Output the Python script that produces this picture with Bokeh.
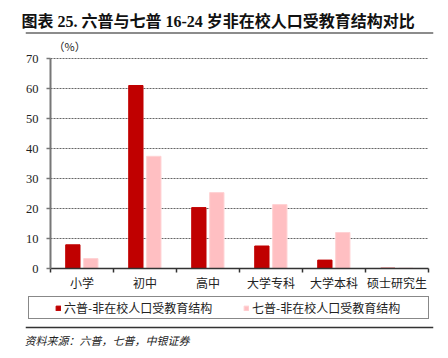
from bokeh.plotting import figure
from bokeh.models import (FixedTicker, Legend, LegendItem, ColumnDataSource, Label, Span, Range1d)
from bokeh.transform import dodge
from bokeh.core.properties import value
from bokeh.embed import file_html
from bokeh.resources import INLINE
import numpy as np

categories = ["小学", "初中", "高中", "大学专科", "大学本科", "硕士研究生"]
census6 = [7.9, 61.0, 20.3, 7.5, 2.8, 0.1]
census7 = [3.3, 37.4, 25.3, 21.3, 12.0, 0.1]
series_names = ["六普-非在校人口受教育结构", "七普-非在校人口受教育结构"]
y_ticks = [0, 10, 20, 30, 40, 50, 60, 70]
title_text = "图表 25. 六普与七普 16-24 岁非在校人口受教育结构对比"
unit_text = "（%）"
source_text = "资料来源：六普，七普，中银证券"

# ---- layout constants (pixels on the canvas) ----
W, H = 448, 358
FRAME_L, FRAME_R, FRAME_T, FRAME_B = 25, 433, 30, 348   # drawing frame
AX_L, AX_R, AX_T, AX_B = 50, 428, 58, 268                # where the axes sit
ncat = len(categories)
ymax = y_ticks[-1]
ppx = (AX_R - AX_L) / ncat
ppy = (AX_B - AX_T) / ymax


def fx(px):
    return (px - AX_L) / ppx


def fy(py):
    return (AX_B - py) / ppy


FONT = "Liberation Serif, Noto Sans CJK SC"
CJK = "Noto Sans CJK SC"

p = figure(width=W, height=H, output_backend="svg", toolbar_location=None,
           x_range=Range1d(fx(FRAME_L), fx(FRAME_R)), y_range=Range1d(fy(FRAME_B), fy(FRAME_T)),
           min_border_left=FRAME_L, min_border_right=W - FRAME_R,
           min_border_top=FRAME_T, min_border_bottom=H - FRAME_B)
p.outline_line_color = None
p.xgrid.visible = False
p.ygrid.visible = False

# ---- title ----
p.title.text = title_text
p.title.align = "left"
p.title.offset = 21 - FRAME_L
p.title.text_font = FONT
p.title.text_font_size = "16px"
p.title.text_font_style = "bold"
p.title.text_color = "#111111"
p.title.standoff = 2

p.add_layout(Span(location=fy(32.5), dimension="width", line_color="#8c8c8c", line_width=2))
p.add_layout(Label(x=fx(53), y=fy(45), text=unit_text, text_font=CJK, text_font_size="11px",
                   text_baseline="middle", text_color="#222222"))

# ---- grid lines (dashed) ----
grid_levels = y_ticks[1:]
p.segment(x0=[0] * len(grid_levels), x1=[ncat] * len(grid_levels), y0=grid_levels, y1=grid_levels,
          line_color="#666666", line_dash="2 1", line_width=1)

# ---- bars ----
xpos = list(np.arange(ncat) + 0.5)
src = ColumnDataSource(dict(x=xpos, a=census6, b=census7, cat=categories))
r1 = p.vbar(x=dodge("x", -0.145, range=p.x_range), top="a", width=0.227, source=src,
            fill_color="#C00000", line_color="#C00000")
r2 = p.vbar(x=dodge("x", 0.14, range=p.x_range), top="b", width=0.227, source=src,
            fill_color="#FFBFC2", line_color="#FFD2D4")

# ---- x axis (line + boundary ticks) and category labels ----
p.xaxis.fixed_location = 0
p.xaxis.bounds = (0, ncat)
p.xaxis.ticker = FixedTicker(ticks=xpos, minor_ticks=list(range(ncat + 1)))
p.xaxis.major_label_overrides = {float(x): "" for x in xpos}
p.xaxis.major_label_text_font_size = "1px"
p.xaxis.major_label_text_alpha = 0
p.xaxis.major_label_standoff = 0
p.xaxis.major_tick_in = 0
p.xaxis.major_tick_out = 0
p.xaxis.minor_tick_in = 0
p.xaxis.minor_tick_out = 4
p.xaxis.minor_tick_line_color = "#333333"
p.xaxis.minor_tick_line_width = 1.5
p.xaxis.axis_line_color = "#333333"
p.xaxis.axis_line_width = 1.5

p.text(x="x", y=fy(282), text="cat", source=src, text_font=value(CJK), text_font_size="12px",
       text_align="center", text_baseline="middle", text_color="#222222")

# ---- y axis ----
p.yaxis.fixed_location = 0
p.yaxis.bounds = (0, ymax)
p.yaxis.ticker = FixedTicker(ticks=y_ticks)
p.yaxis.minor_tick_line_color = None
p.yaxis.major_tick_in = 0
p.yaxis.major_tick_out = 4
p.yaxis.major_tick_line_color = "#777777"
p.yaxis.major_tick_line_width = 1.5
p.yaxis.axis_line_color = "#777777"
p.yaxis.axis_line_width = 2
p.yaxis.major_label_text_font = "Liberation Serif"
p.yaxis.major_label_text_font_size = "12.5px"
p.yaxis.major_label_text_color = "#222222"
p.yaxis.major_label_standoff = 8

# ---- legend (inside the drawing frame) ----
legend = Legend(items=[LegendItem(label=series_names[0], renderers=[r1]),
                       LegendItem(label=series_names[1], renderers=[r2])],
                location=(28 - FRAME_L, FRAME_B - 319), orientation="horizontal",
                title=" ", title_location="left", title_text_font_size="1px", title_standoff=23,
                glyph_width=6, glyph_height=6, label_width=174, spacing=5,
                label_standoff=3, padding=2, margin=0,
                label_text_font=CJK, label_text_font_size="12px",
                label_text_color="#222222", label_height=12,
                border_line_color="#111111", border_line_width=1.2,
                background_fill_alpha=1)
p.add_layout(legend, "center")

# ---- footer rule + source ----
p.add_layout(Span(location=fy(327), dimension="width", line_color="#333333", line_width=1.5))
p.add_layout(Label(x=fx(24), y=fy(339), text=source_text, text_font=CJK,
                   text_font_size="11px", text_font_style="italic", text_baseline="middle",
                   text_color="#222222"))

open("out.html", "w").write(file_html(p, INLINE))
